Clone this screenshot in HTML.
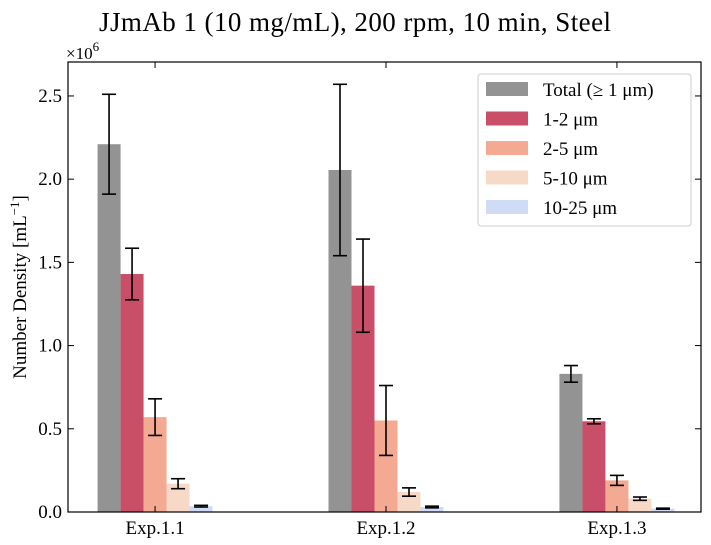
<!DOCTYPE html>
<html><head><meta charset="utf-8"><style>
body{margin:0;background:#fff;}
svg{display:block;font-family:"Liberation Serif","DejaVu Serif",serif;}
</style></head><body>
<svg id="chart" width="711" height="545" viewBox="0 0 711 545" xmlns="http://www.w3.org/2000/svg">
<text x="355" y="31" font-size="27" text-anchor="middle" textLength="512">JJmAb 1 (10 mg/mL), 200 rpm, 10 min, Steel</text>
<text x="66" y="59" font-size="17">×10<tspan dy="-8" font-size="13">6</tspan></text>
<text transform="translate(26,287) rotate(-90)" font-size="19" text-anchor="middle">Number Density [mL<tspan dy="-7" font-size="13">−1</tspan><tspan dy="7">]</tspan></text>
<g id="plot"></g>
</svg>
<script>
const categories=["Exp.1.1","Exp.1.2","Exp.1.3"];
const seriesNames=["Total (≥ 1 μm)","1-2 μm","2-5 μm","5-10 μm","10-25 μm"];
const total=[2.21,2.055,0.83];
const totalErr=[0.30,0.515,0.05];
const s12=[1.43,1.36,0.545];
const s12Err=[0.155,0.28,0.015];
const s25=[0.57,0.55,0.19];
const s25Err=[0.11,0.21,0.03];
const s510=[0.17,0.12,0.08];
const s510Err=[0.03,0.025,0.01];
const s1025=[0.035,0.03,0.02];
const s1025Err=[0.005,0.005,0.003];
const yTicks=[0,0.5,1.0,1.5,2.0,2.5];
const yTickLabels=["0.0","0.5","1.0","1.5","2.0","2.5"];

const series=[total,s12,s25,s510,s1025];
const errs=[totalErr,s12Err,s25Err,s510Err,s1025Err];
const colors=["#939393","#c94f68","#f4a992","#f7d9c8","#d0dcf5"];
const L=68,R=701,T=62,B=512,yMax=2.704;
const y=v=>B-v/yMax*(B-T);
const xMin=-0.377,xMax=2.364;
const x=i=>L+(i-xMin)/(xMax-xMin)*(R-L);
const bw=23;
const ns="http://www.w3.org/2000/svg";
const g=document.getElementById('plot');
function mk(tag,attrs){const e=document.createElementNS(ns,tag);for(const k in attrs)e.setAttribute(k,attrs[k]);g.appendChild(e);return e;}
series.forEach((s,si)=>{
 s.forEach((v,ci)=>{
  const cx=x(ci)+(si-2)*bw;
  const r=mk('rect',{x:cx-bw/2,y:y(v),width:bw,height:B-y(v),fill:colors[si]});
  
  
  const e=errs[si][ci];
  const eg=document.createElementNS(ns,'g');
  
  
  g.appendChild(eg);
  [[cx,y(v+e),cx,y(v-e)],[cx-7,y(v+e),cx+7,y(v+e)],[cx-7,y(v-e),cx+7,y(v-e)]].forEach(l=>{
   const ln=document.createElementNS(ns,'line');
   ln.setAttribute('x1',l[0]);ln.setAttribute('y1',l[1]);ln.setAttribute('x2',l[2]);ln.setAttribute('y2',l[3]);
   ln.setAttribute('stroke','#000');ln.setAttribute('stroke-width','1.6');eg.appendChild(ln);
  });
 });
});
const frame=mk('rect',{x:L,y:T,width:R-L,height:B-T,fill:'none',stroke:'#000','stroke-width':1.2});


yTicks.forEach((t,i)=>{
 mk('line',{x1:L,y1:y(t),x2:L+6,y2:y(t),stroke:'#000'});
 mk('line',{x1:R,y1:y(t),x2:R-6,y2:y(t),stroke:'#000'});
 const tx=mk('text',{x:L-6,y:y(t)+6,'font-size':19,'text-anchor':'end'});
 tx.textContent=yTickLabels[i];
 
 
});
categories.forEach((c,i)=>{
 mk('line',{x1:x(i),y1:B,x2:x(i),y2:B-6,stroke:'#000'});
 mk('line',{x1:x(i),y1:T,x2:x(i),y2:T+6,stroke:'#000'});
 const tx=mk('text',{x:x(i),y:B+22,'font-size':19,'text-anchor':'middle'});
 tx.textContent=c;
 
 
});
const lg=mk('rect',{x:478,y:74,width:213,height:152,fill:'#fff',stroke:'#ccc',rx:3});


seriesNames.forEach((n,i)=>{
 const yy=82+i*29.5;
 const sw=mk('rect',{x:486,y:yy,width:42,height:14,fill:colors[i]});
 
 
 const tx=mk('text',{x:543,y:yy+14,'font-size':19});
 tx.textContent=n;
 
 
});
</script>
</body></html>
